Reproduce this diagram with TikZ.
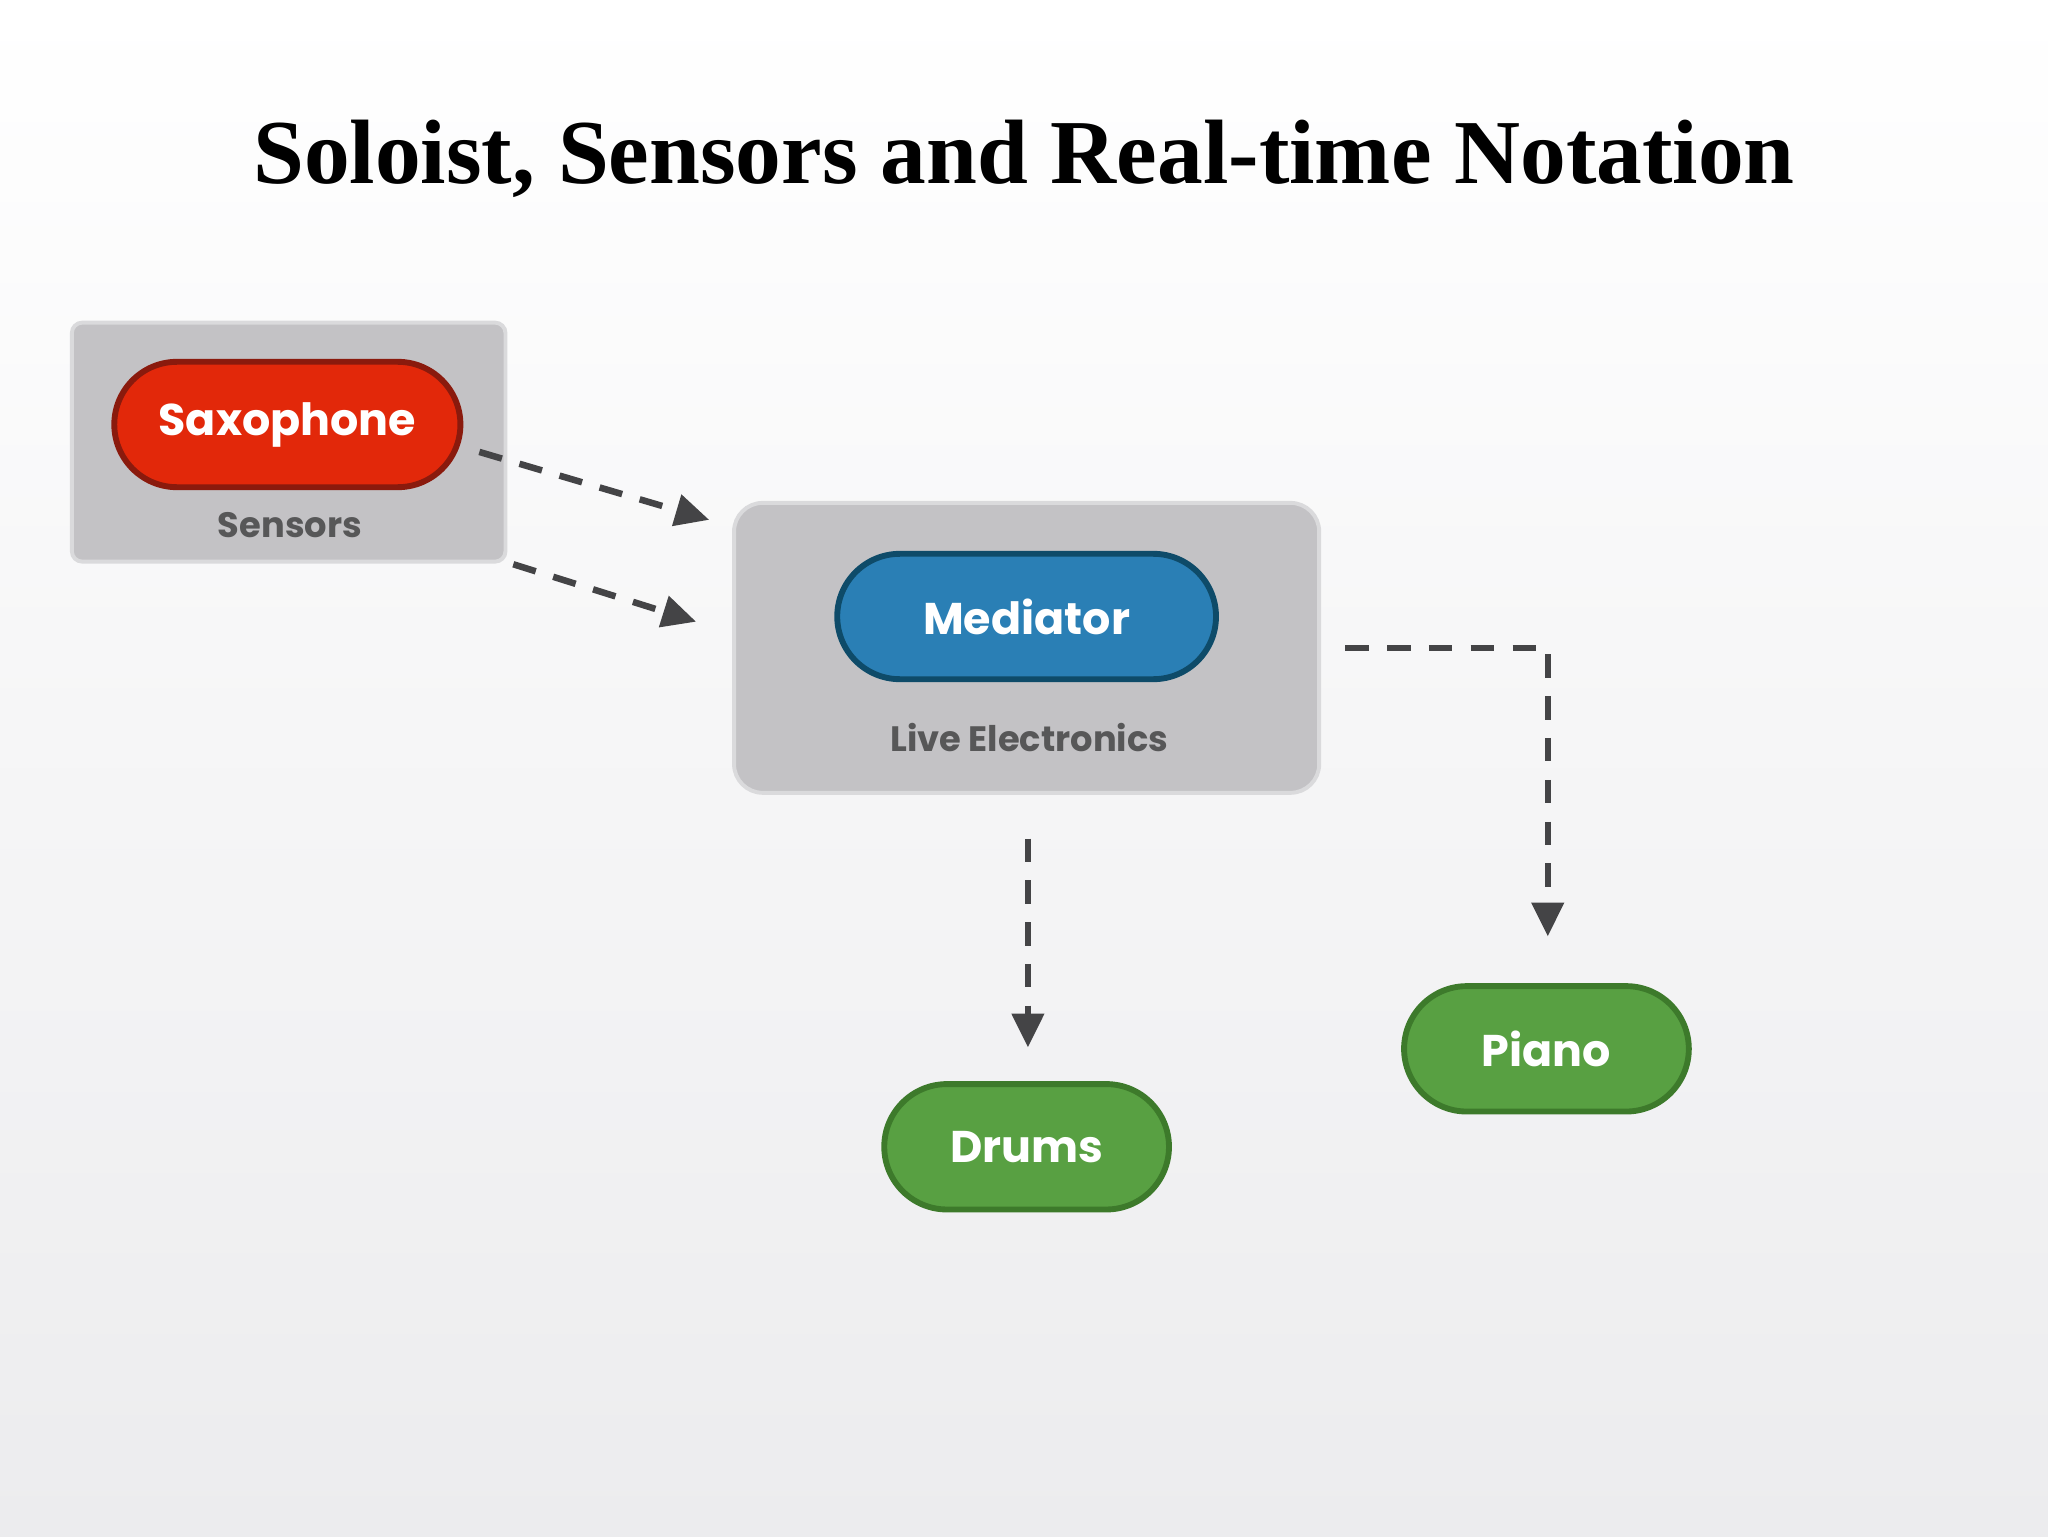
\documentclass[tikz,border=0pt]{standalone}
\usepackage{fontspec}
\setmainfont{Liberation Serif}
\newfontfamily\lab{Poppins}
\usetikzlibrary{arrows.meta}
\definecolor{boxg}{HTML}{C3C2C5}
\definecolor{boxb}{HTML}{DADADC}
\definecolor{sred}{HTML}{E2280A}
\definecolor{sredb}{HTML}{8A1A0D}
\definecolor{mblue}{HTML}{2A7FB5}
\definecolor{mblueb}{HTML}{0E4B69}
\definecolor{pgreen}{HTML}{58A042}
\definecolor{pgreenb}{HTML}{3D7A2B}
\definecolor{arr}{HTML}{444446}
\definecolor{bgbot}{HTML}{ECECEE}
\begin{document}
\begin{tikzpicture}[x=1pt,y=-1pt,
  group/.style={draw=boxb,line width=3pt,fill=boxg},
  pill/.style={rounded corners=48pt,line width=4.5pt,minimum height=96pt,text=white,font=\lab\bfseries\fontsize{34}{40}\selectfont},
  sub/.style={text=arr!90,font=\lab\bfseries\fontsize{27}{32}\selectfont},
  conn/.style={draw=arr,line width=5pt,dash pattern=on 18pt off 14pt,-{Triangle[length=26pt,width=24pt]}}]
\shade[top color=white,bottom color=bgbot] (0,0) rectangle (1568,1176);
\useasboundingbox (0,0) rectangle (1568,1176);
\node (title) at (784,122) {\bfseries\fontsize{70}{80}\selectfont Soloist, Sensors and Real-time Notation};
\draw[group,rounded corners=8pt] (55,247) rectangle (387,430);
\node[pill,fill=sred,draw=sredb,minimum width=265pt] (sax) at (220,325) {Saxophone};
\node[sub] (sens) at (222,402) {Sensors};
\draw[group,rounded corners=22pt] (562,385) rectangle (1010,607);
\node[pill,fill=mblue,draw=mblueb,minimum width=290pt] (med) at (786,472) {Mediator};
\node[sub] (live) at (788,565) {Live Electronics};
\node[pill,fill=pgreen,draw=pgreenb,minimum width=218pt] (drums) at (786,878) {Drums};
\node[pill,fill=pgreen,draw=pgreenb,minimum width=218pt] (piano) at (1184,803) {Piano};
\coordinate (a1) at (367,346); \coordinate (b1) at (543,398);
\coordinate (a2) at (393,432); \coordinate (b2) at (533,476);
\coordinate (a3) at (787,642); \coordinate (b3) at (787,802);
\coordinate (a4) at (1030,496); \coordinate (b4) at (1185,717);
\draw[conn] (a1) -- (b1);
\draw[conn] (a2) -- (b2);
\draw[conn] (a3) -- (b3);
\draw[conn] (a4) -| (b4);
\end{tikzpicture}
\end{document}
